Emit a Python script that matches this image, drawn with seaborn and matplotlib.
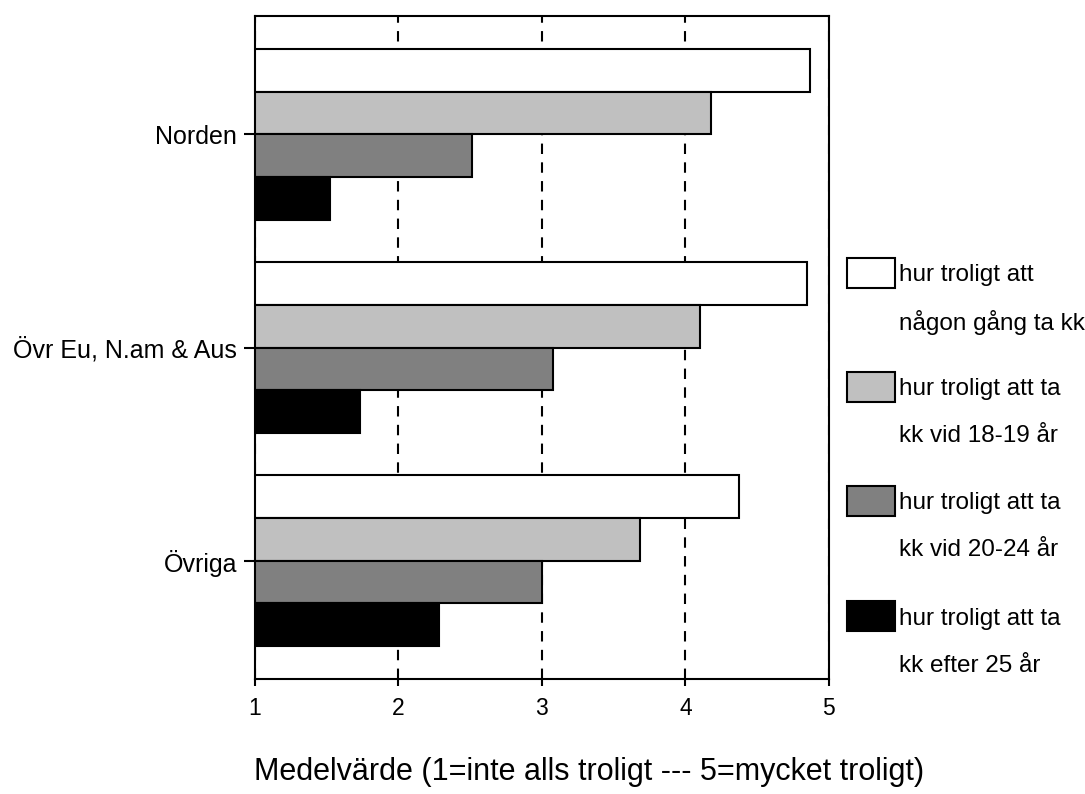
import matplotlib
matplotlib.use("Agg")
import matplotlib.pyplot as plt
from matplotlib.patches import Rectangle
import seaborn as sns
import pandas as pd

# Regions and survey questions (mean score, 1 = not at all likely ... 5 = very likely)
regions = ["Norden", "Övr Eu, N.am & Aus", "Övriga"]
series = [
    "hur troligt att\nnågon gång ta kk",
    "hur troligt att ta\nkk vid 18-19 år",
    "hur troligt att ta\nkk vid 20-24 år",
    "hur troligt att ta\nkk efter 25 år",
]
any_time = [4.87, 4.85, 4.37]
age_18_19 = [4.18, 4.10, 3.68]
age_20_24 = [2.51, 3.08, 3.00]
after_25 = [1.52, 1.73, 2.28]
colors = ["#FFFFFF", "#C0C0C0", "#808080", "#000000"]
x_ticks = [1, 2, 3, 4, 5]
x_label = "Medelvärde (1=inte alls troligt --- 5=mycket troligt)"

values = [any_time, age_18_19, age_20_24, after_25]
df = pd.DataFrame(
    [
        {"region": r, "serie": s, "medel": v}
        for s, vals in zip(series, values)
        for r, v in zip(regions, vals)
    ]
)

sns.set_theme(style="ticks")
plt.rcParams["font.family"] = ["Liberation Sans", "DejaVu Sans"]
plt.rcParams["text.color"] = "black"
plt.rcParams["axes.labelcolor"] = "black"

fig = plt.figure(figsize=(10.85, 7.94), dpi=100)
ax = fig.add_axes([0.235, 0.1448, 0.529, 0.835])

sns.barplot(
    data=df, y="region", x="medel", hue="serie",
    order=regions, hue_order=series, palette=colors,
    orient="h", width=0.8, edgecolor="black", linewidth=1.5,
    saturation=1, legend=False, ax=ax,
)

ax.set_xlim(1, 5)
ax.set_ylim(2.556, -0.556)
ax.set_xticks(x_ticks)
ax.set_xticklabels([str(t) for t in x_ticks])
ax.set_ylabel("")
ax.set_xlabel(x_label, fontsize=22)
ax.xaxis.set_label_coords(0.582, -0.117)

# dashed reference lines behind the bars
ax.set_axisbelow(True)
ax.xaxis.grid(True, color="black", linewidth=1.5, linestyle=(0, (5, 4)))

for sp in ax.spines.values():
    sp.set_visible(True)
    sp.set_color("black")
    sp.set_linewidth(1.5)

ax.tick_params(axis="y", which="both", left=True, right=False, length=8,
               width=1.5, pad=5, labelsize=18, colors="black")
ax.tick_params(axis="x", which="both", bottom=True, top=False, length=5,
               width=1.5, pad=8, labelsize=16.5, colors="black")

# legend: swatch beside the first line of each two-line label
box_w, box_h = 48 / 1085, 30 / 794
x_box = 847 / 1085
x_txt = 899 / 1085
box_tops = [258, 372, 486, 601]
for lab, col, top in zip(series, colors, box_tops):
    y0 = 1 - (top + 30) / 794
    fig.add_artist(Rectangle((x_box, y0), box_w, box_h, transform=fig.transFigure,
                             facecolor=col, edgecolor="black", linewidth=1.5))
    first, second = lab.split("\n")
    yc = y0 + box_h / 2
    fig.text(x_txt, yc, first, fontsize=17.5, va="center_baseline", ha="left")
    fig.text(x_txt, yc - 47 / 794, second, fontsize=17.5, va="center_baseline", ha="left")

fig.savefig("out.png", dpi=100, facecolor="white")
